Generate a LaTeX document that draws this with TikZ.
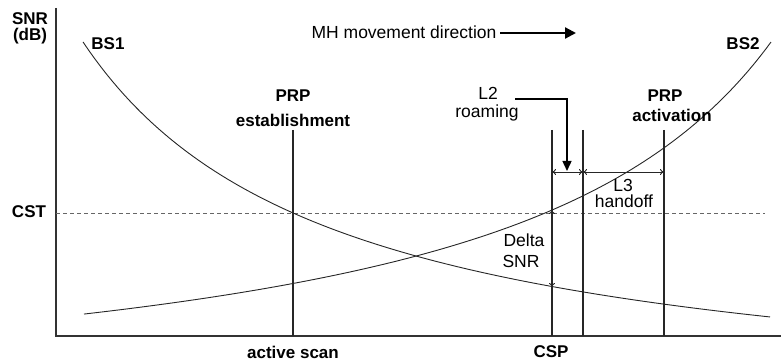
\documentclass[tikz,border=0pt]{standalone}
\usepackage{fontspec}
\setmainfont{Liberation Sans}
\usetikzlibrary{arrows.meta}
\begin{document}
\begin{tikzpicture}[x=1pt,y=-1pt,
  lbl/.style={inner sep=0pt,anchor=base,font=\fontsize{17.5}{17.5}\selectfont},
  blbl/.style={inner sep=0pt,anchor=base,font=\fontsize{17}{17}\selectfont\bfseries},
  axisline/.style={line width=1.4pt,black!80},
  marker/.style={line width=1.3pt,black!85},
  curve/.style={line width=0.9pt,black!85},
  dimarrow/.style={line width=0.9pt,black!85,{To[length=4pt,width=6pt,open]}-{To[length=4pt,width=6pt,open]}},
  bigarrow/.style={line width=2.2pt,-{Triangle[length=11pt,width=11pt]}},
  l2arrow/.style={line width=1.4pt,-{Triangle[length=10pt,width=9pt]}},
  cstline/.style={line width=0.8pt,black!60,dash pattern=on 4pt off 3pt}]
\useasboundingbox (0,0) rectangle (781,363);
% axes
\coordinate (ytop) at (56,8);
\coordinate (orig) at (56,336);
\coordinate (xend) at (781,336);
\draw[axisline] (ytop) -- (orig) -- (xend);
% CST line
\coordinate (cstL) at (56,213);
\coordinate (cstR) at (765,213);
\draw[cstline] (cstL) -- (cstR);
% vertical markers
\coordinate (asT) at (293,130); \coordinate (asB) at (293,336);
\coordinate (cspT) at (552,130); \coordinate (cspB) at (552,336);
\coordinate (l2T) at (583,130); \coordinate (l2B) at (583,336);
\coordinate (prpT) at (664,130); \coordinate (prpB) at (664,336);
\draw[marker] (asT) -- (asB);
\draw[marker] (cspT) -- (cspB);
\draw[marker] (l2T) -- (l2B);
\draw[marker] (prpT) -- (prpB);
% curves
\draw[curve] plot[domain=83:770,samples=120] (\x,{417.5-943.37/((\x+168.2)/100)});
\draw[curve] plot[domain=84:771,samples=120] (\x,{425-1073.02/((1051.2-\x)/100)});
% dimension arrows
\coordinate (d1) at (552,172); \coordinate (d2) at (583,172); \coordinate (d3) at (664,172);
\draw[dimarrow] (d1) -- (d2);
\draw[dimarrow] (d2) -- (d3);
\coordinate (dsT) at (552,210); \coordinate (dsB) at (552,287);
\draw[dimarrow] (dsT) -- (dsB);
% L2 arrow
\coordinate (l2s) at (515,99); \coordinate (l2c) at (567,99); \coordinate (l2e) at (567,171);
\draw[l2arrow] (l2s) -- (l2c) -- (l2e);
% MH arrow
\coordinate (mhs) at (500,33); \coordinate (mhe) at (576,33);
\draw[bigarrow] (mhs) -- (mhe);
% labels
\node[blbl] (snr) at (30,25) {SNR};
\node[blbl] (db) at (30,41) {(dB)};
\node[blbl] (bs1) at (108,50) {BS1};
\node[blbl] (bs2) at (743,50) {BS2};
\node[lbl] (mh) at (404,39) {MH movement direction};
\node[blbl] (prp1) at (293,102) {PRP};
\node[blbl] (est) at (293,127) {establishment};
\node[lbl] (l2) at (488,100) {L2};
\node[lbl] (roam) at (487,118) {roaming};
\node[blbl] (prp2) at (665,102) {PRP};
\node[blbl] (act) at (672,122) {activation};
\node[lbl] (l3) at (623,192) {L3};
\node[lbl] (hand) at (624,208) {handoff};
\node[lbl] (delta) at (524,247) {Delta};
\node[lbl] (dsnr) at (521,267) {SNR};
\node[blbl] (cst) at (29,218) {CST};
\node[blbl] (as) at (293,358) {active scan};
\node[blbl] (csp) at (551,357) {CSP};
\end{tikzpicture}
\end{document}
